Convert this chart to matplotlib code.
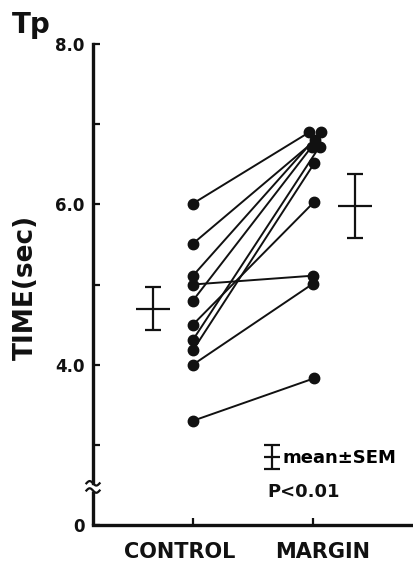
import numpy as np
import matplotlib.pyplot as plt
from matplotlib.legend_handler import HandlerErrorbar

plt.rcParams['font.family'] = ['DejaVu Sans']
plt.rcParams['font.weight'] = 'bold'

# paired values, seconds
control = [6.01, 5.51, 5.11, 5.00, 4.80, 4.50, 4.31, 4.18, 4.00, 3.30]
margin = [6.90, 6.80, 6.90, 5.11, 6.72, 6.03, 6.72, 6.51, 5.01, 3.83]
margin_dx = [-0.03, 0.02, 0.065, 0.0, -0.01, 0.01, 0.055, 0.01, 0.0, 0.01]

groups = ['CONTROL', 'MARGIN']
group_mean = [4.70, 5.98]
group_sem = [0.265, 0.395]

yticks = [2.0, 4.0, 6.0, 8.0]
yticklabels = ['0', '4.0', '6.0', '8.0']

ink = '#111111'

fig = plt.figure(figsize=(4.14, 5.68), dpi=100)
ax = fig.add_axes([93 / 414, 1 - 525 / 568, 321 / 414, (525 - 44) / 568])

# subject lines
for c, m, dx in zip(control, margin, margin_dx):
    ax.plot([0, 1 + dx], [c, m], color=ink, lw=1.4, zorder=2)
ax.plot(np.zeros(len(control)), control, 'o', color=ink, ms=7.5, zorder=3)
ax.plot(1 + np.array(margin_dx), margin, 'o', color=ink, ms=7.5, zorder=3)

# mean +- SEM
mx = [-0.333, 1.35]
eb = None
for x, mu, se in zip(mx, group_mean, group_sem):
    eb = ax.errorbar([x], [mu], yerr=[se], fmt='_', color=ink, ms=24,
                     mew=1.6, ecolor=ink, elinewidth=1.6, capsize=5.5,
                     capthick=1.6)

ax.set_xlim(-0.833, 1.842)
ax.set_ylim(2.0, 8.0)

# axes styling
for s in ['top', 'right']:
    ax.spines[s].set_visible(False)
ax.spines['bottom'].set_linewidth(2.4)
ax.spines['left'].set_linewidth(2.4)
ax.spines['left'].set_bounds(2.52, 8.0)
ax.spines['bottom'].set_color(ink)
ax.spines['left'].set_color(ink)

ax.set_yticks(yticks)
ax.set_yticklabels(yticklabels, fontsize=12, fontweight='bold')
ax.set_yticks([3.0, 5.0, 7.0], minor=True)
ax.tick_params(axis='y', which='both', direction='in', length=5, width=1.6,
               pad=6, colors=ink)
ax.set_xticks([0, 1])
ax.set_xticklabels([])
ax.tick_params(axis='x', direction='in', length=5, width=1.6, colors=ink)

ax.text(-0.11, -0.035, groups[0], transform=ax.get_xaxis_transform(),
        ha='center', va='top', fontsize=15, fontweight='bold', color=ink)
ax.text(1.08, -0.035, groups[1], transform=ax.get_xaxis_transform(),
        ha='center', va='top', fontsize=15, fontweight='bold', color=ink)

# axis break
ax.plot([-0.833, -0.833], [2.0, 2.43], color=ink, lw=2.4, clip_on=False,
        solid_capstyle='butt')
t = np.linspace(0, 1, 30)
for yb in [2.52, 2.43]:
    ax.plot(-0.833 + (t - 0.5) * 0.11, yb + 0.028 * np.sin(2 * np.pi * t),
            color=ink, lw=1.6, clip_on=False)

fig.text(26 / 414, 1 - 287 / 568, 'TIME(sec)', rotation=90, ha='center',
         va='center', fontsize=19, fontweight='bold', color=ink)
fig.text(12 / 414, 1 - 33 / 568, 'Tp', ha='left', va='baseline',
         fontsize=20, fontweight='bold', color=ink)

leg = ax.legend([eb], ['mean\u00b1SEM'], loc='center left',
                bbox_to_anchor=(0.535, 0.139), frameon=False, fontsize=13,
                handlelength=0.8, handletextpad=0.2, borderpad=0,
                borderaxespad=0, markerscale=0.5,
                handler_map={type(eb): HandlerErrorbar(yerr_size=0.68)})
for txt in leg.get_texts():
    txt.set_fontweight('bold')
ax.text(0.542, 0.0686, 'P<0.01', transform=ax.transAxes, ha='left',
        va='center', fontsize=13, fontweight='bold', color=ink)

fig.savefig('out.png', dpi=100)
